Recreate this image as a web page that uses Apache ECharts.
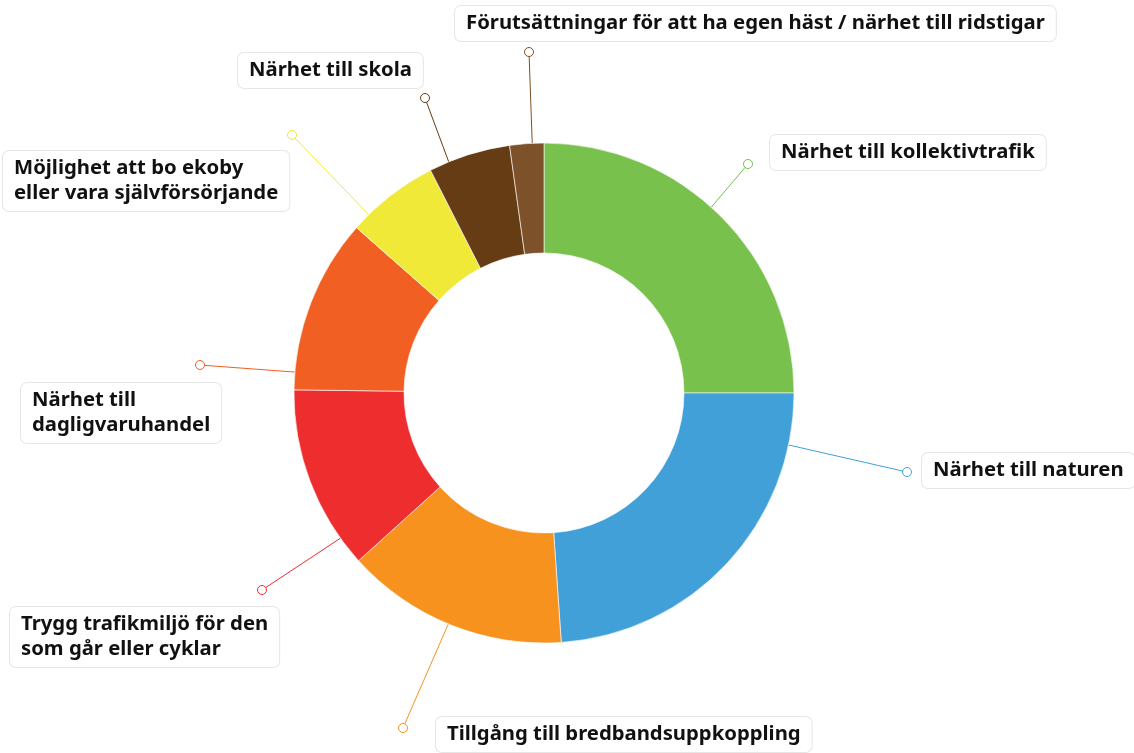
<!DOCTYPE html>
<html>
<head>
<meta charset="utf-8">
<script src="https://cdn.jsdelivr.net/npm/echarts@6/dist/echarts.min.js"></script>
<style>
  html, body { margin: 0; padding: 0; background: #fff; }
  #chart { width: 1134px; height: 753px; }
</style>
</head>
<body>
<div id="chart"></div>
<script>
const categories = [
  'Närhet till kollektivtrafik',
  'Närhet till naturen',
  'Tillgång till bredbandsuppkoppling',
  'Trygg trafikmiljö för den\nsom går eller cyklar',
  'Närhet till\ndagligvaruhandel',
  'Möjlighet att bo ekoby\neller vara självförsörjande',
  'Närhet till skola',
  'Förutsättningar för att ha egen häst / närhet till ridstigar'
]
const values = [25.0, 23.9, 14.4, 11.9, 11.3, 6.0, 5.3, 2.2]
const colors = ['#77c14c', '#41a0d8', '#f7921f', '#ed2d2e', '#f15f22', '#f1e938', '#663c15', '#7d5129']

// ring geometry in px
const CX = 544, CY = 393, R_IN = 140, R_OUT = 250

// connector layout: angle where it leaves the ring (deg, clockwise from top),
// the little end dot, and the top-left corner of the label box
const connectorAngles = [42, 102, 202.5, 234.5, 274.8, 315.5, 337.6, 357.3]
const dotPos = [[748, 164], [907, 472], [403, 728], [262, 590], [200, 365], [292, 135], [425, 98], [529, 52]]
const boxPos = [[770, 135], [922, 453], [436, 717], [10, 607], [21, 383], [3, 151], [238, 53], [455, 6]]

const edgePoint = (deg) => {
  const a = deg * Math.PI / 180
  return [CX + R_OUT * Math.sin(a), CY - R_OUT * Math.cos(a)]
}

const chart = echarts.init(document.getElementById('chart'))

chart.setOption({
  animation: false,
  backgroundColor: '#fff',
  series: [{
    type: 'pie',
    center: [CX, CY],
    radius: [R_IN, R_OUT],
    startAngle: 90,
    clockwise: true,
    avoidLabelOverlap: false,
    data: categories.map((name, i) => ({
      name,
      value: values[i],
      itemStyle: { color: colors[i] },
      labelLine: { lineStyle: { color: colors[i] } }
    })),
    itemStyle: { borderColor: '#fff', borderWidth: 0.6 },
    label: {
      show: true,
      position: 'outside',
      formatter: '{b}',
      fontFamily: 'Noto Sans',
      fontWeight: 'bold',
      fontSize: 20.3,
      lineHeight: 25,
      color: '#111',
      backgroundColor: '#fff',
      borderColor: '#e6e6e6',
      borderWidth: 1,
      borderRadius: 6,
      padding: [5, 11, 5, 11]
    },
    labelLine: { show: true, lineStyle: { width: 1 } },
    labelLayout: (params) => {
      const i = params.dataIndex
      const start = edgePoint(connectorAngles[i])
      const end = dotPos[i]
      return {
        x: boxPos[i][0],
        y: boxPos[i][1],
        align: 'left',
        verticalAlign: 'top',
        hideOverlap: false,
        labelLinePoints: [start, end, end]
      }
    }
  }],
  graphic: dotPos.map((p, i) => ({
    type: 'circle',
    z: 100,
    shape: { cx: p[0], cy: p[1], r: 4.5 },
    style: { fill: '#fff', stroke: colors[i], lineWidth: 1 }
  }))
})
</script>
</body>
</html>
